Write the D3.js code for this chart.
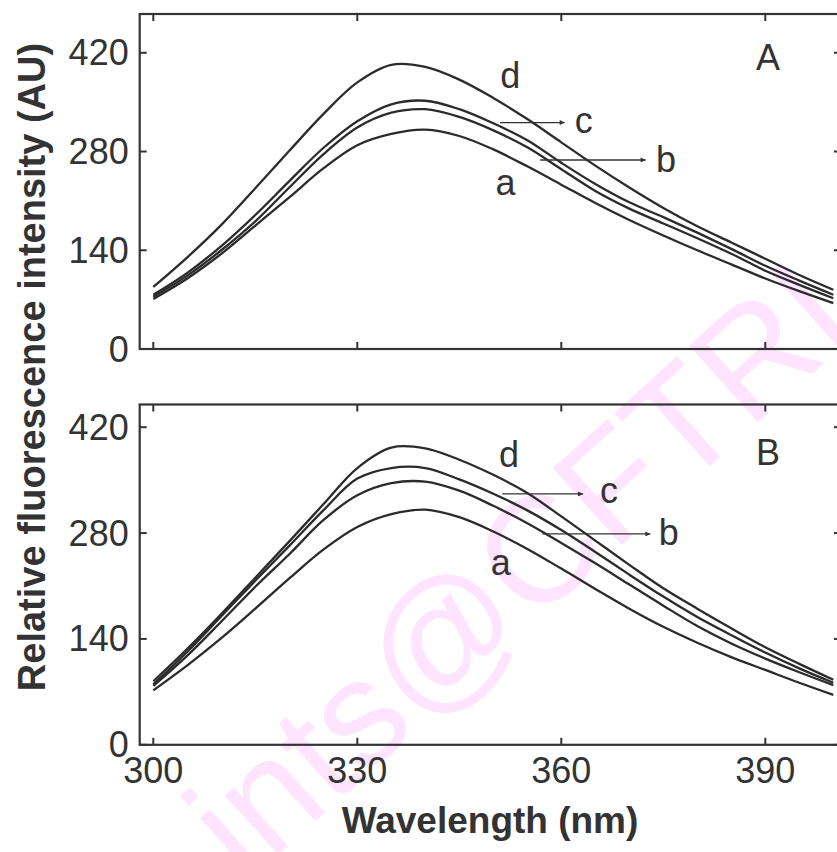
<!DOCTYPE html>
<html>
<head>
<meta charset="utf-8">
<script src="https://cdn.jsdelivr.net/npm/d3@7"></script>
<style>
  html, body { margin: 0; padding: 0; background: #fff; }
  svg { display: block; }
  text { font-family: "Liberation Sans", Arial, Helvetica, sans-serif; fill: #333; }
</style>
</head>
<body>
<svg id="chart" width="837" height="852"></svg>
<script>
// Emission wavelengths (nm) shared by every spectrum
const wavelengths = [300,305,310,315,320,325,330,335,340,345,350,355,360,365,370,375,380,385,390,395,400];

// Panel A spectra (relative fluorescence intensity, AU)
const spectrumA_a = [71,100,135,175,215,256,289,305,311,302,283,259,233,207,183,161,140,120,100,82,65];
const spectrumA_b = [74,104,140,181,229,276,314,335,340,329,310,286,255,224,199,178,157,135,111,91,72];
const spectrumA_c = [77,108,146,190,238,285,323,347,352,340,320,296,264,234,208,187,165,142,118,97,77];
const spectrumA_d = [88,130,176,228,281,333,378,403,400,382,356,326,293,260,229,200,174,151,128,105,84];

// Panel B spectra (relative fluorescence intensity, AU)
const spectrumB_a = [72,105,141,180,220,258,288,305,311,301,282,259,233,206,180,156,135,116,99,82,66];
const spectrumB_b = [78,118,163,209,252,297,330,346,348,336,316,293,267,240,212,184,157,134,114,96,79];
const spectrumB_c = [80,123,170,217,263,310,352,366,366,351,332,310,284,255,225,196,169,145,122,101,82];
const spectrumB_d = [84,127,173,221,269,318,366,393,392,377,357,333,302,270,238,207,180,154,129,107,86];

// Axis ticks
const xTicks = [300, 330, 360, 390];
const yTicks = [0, 140, 280, 420];

// Curve labels placed at a wavelength / intensity, with optional pointer arrows
const curveLabelsA = [
  {text: "d", wl: 352.5, v: 370},
  {text: "c", wl: 363.3, v: 306, arrowFrom: 351.0, arrowTo: 360.5, arrowV: 321},
  {text: "b", wl: 375.4, v: 251, arrowFrom: 356.9, arrowTo: 372.4, arrowV: 268},
  {text: "a", wl: 351.8, v: 218}
];
const curveLabelsB = [
  {text: "d", wl: 352.3, v: 367},
  {text: "c", wl: 367.0, v: 320, arrowFrom: 351.3, arrowTo: 363.2, arrowV: 331.7},
  {text: "b", wl: 375.8, v: 264, arrowFrom: 357.2, arrowTo: 373.1, arrowV: 278.8},
  {text: "a", wl: 351.1, v: 224.5}
];

const svg = d3.select("#chart");
const ink = "#2b2b2b";

// Faint watermark lettering behind the plot
svg.append("text")
  .attr("transform", "translate(553,607) rotate(-42)")
  .attr("text-anchor", "middle")
  .style("font-size", "150px")
  .style("fill", "#ffe4ff")
  .text("ints@CFTRI");

// Shared horizontal scale
const x = d3.scaleLinear().domain([298, 400]).range([139.7, 833.3]);
const frameRight = 841;

const defs = svg.append("defs");
defs.append("marker")
  .attr("id", "arrowhead")
  .attr("viewBox", "0 0 10 10")
  .attr("refX", 10).attr("refY", 5)
  .attr("markerWidth", 8).attr("markerHeight", 5)
  .attr("markerUnits", "userSpaceOnUse")
  .attr("orient", "auto")
  .append("path").attr("d", "M0,0 L10,5 L0,10 Z").attr("fill", "#333");

function drawPanel(opts) {
  const y = d3.scaleLinear().domain([0, opts.yMax]).range([opts.bottom, opts.top]);
  const g = svg.append("g");
  const left = x(298);

  // spectra
  const line = d3.line()
    .x((d, i) => x(wavelengths[i]))
    .y(d => y(d))
    .curve(d3.curveCatmullRom.alpha(0.5));
  opts.series.forEach(s => {
    g.append("path")
      .attr("d", line(s))
      .attr("fill", "none")
      .attr("stroke", ink)
      .attr("stroke-width", 2.3)
      .attr("stroke-linejoin", "round");
  });

  // frame
  g.append("rect")
    .attr("x", left).attr("y", opts.top)
    .attr("width", frameRight - left).attr("height", opts.bottom - opts.top)
    .attr("fill", "none").attr("stroke", "#333").attr("stroke-width", 2.2);

  // inward ticks on all four sides
  const tl = 7;
  xTicks.forEach(t => {
    g.append("line").attr("x1", x(t)).attr("x2", x(t))
      .attr("y1", opts.bottom).attr("y2", opts.bottom - tl)
      .attr("stroke", "#333").attr("stroke-width", 2);
    g.append("line").attr("x1", x(t)).attr("x2", x(t))
      .attr("y1", opts.top).attr("y2", opts.top + tl)
      .attr("stroke", "#333").attr("stroke-width", 2);
  });
  yTicks.forEach(t => {
    g.append("line").attr("x1", left).attr("x2", left + tl)
      .attr("y1", y(t)).attr("y2", y(t))
      .attr("stroke", "#333").attr("stroke-width", 2);
    g.append("line").attr("x1", frameRight).attr("x2", frameRight - tl)
      .attr("y1", y(t)).attr("y2", y(t))
      .attr("stroke", "#333").attr("stroke-width", 2);
    g.append("text")
      .attr("x", left - 11).attr("y", y(t) + 12.5)
      .attr("text-anchor", "end")
      .style("font-size", "36px")
      .text(t);
  });

  if (opts.xLabels) {
    xTicks.forEach(t => {
      g.append("text")
        .attr("x", x(t)).attr("y", opts.bottom + 38)
        .attr("text-anchor", "middle")
        .style("font-size", "36px")
        .text(t);
    });
  }

  // panel letter
  g.append("text")
    .attr("x", 768).attr("y", opts.letterY)
    .attr("text-anchor", "middle")
    .style("font-size", "36px")
    .text(opts.letter);

  // curve labels and pointer arrows
  opts.labels.forEach(l => {
    g.append("text")
      .attr("x", x(l.wl)).attr("y", y(l.v))
      .attr("text-anchor", "middle")
      .style("font-size", "36px")
      .text(l.text);
    if (l.arrowFrom !== undefined) {
      g.append("line")
        .attr("x1", x(l.arrowFrom)).attr("x2", x(l.arrowTo))
        .attr("y1", y(l.arrowV)).attr("y2", y(l.arrowV))
        .attr("stroke", "#333").attr("stroke-width", 1.3)
        .attr("marker-end", "url(#arrowhead)");
    }
  });
}

drawPanel({
  top: 14, bottom: 349, yMax: 475,
  series: [spectrumA_a, spectrumA_b, spectrumA_c, spectrumA_d],
  labels: curveLabelsA, letter: "A", letterY: 70, xLabels: false
});
drawPanel({
  top: 404.5, bottom: 744.8, yMax: 450,
  series: [spectrumB_a, spectrumB_b, spectrumB_c, spectrumB_d],
  labels: curveLabelsB, letter: "B", letterY: 465, xLabels: true
});

// axis titles
svg.append("text")
  .attr("transform", "translate(45,367) rotate(-90)")
  .attr("text-anchor", "middle")
  .style("font-size", "38px")
  .style("font-weight", "bold")
  .text("Relative fluorescence intensity (AU)");

svg.append("text")
  .attr("x", 490).attr("y", 833)
  .attr("text-anchor", "middle")
  .style("font-size", "37px")
  .style("font-weight", "bold")
  .text("Wavelength (nm)");
</script>
</body>
</html>
